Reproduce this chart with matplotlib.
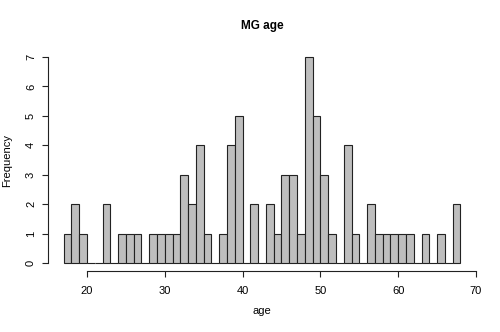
import matplotlib.pyplot as plt
import numpy as np

plt.rcParams['font.family'] = ['Liberation Sans', 'DejaVu Sans']

# one-year bins from 17 to 68
bin_edges = np.arange(17, 69)
counts = [1, 2, 1, 0, 0, 2, 0, 1, 1, 1, 0, 1, 1, 1, 1, 3, 2, 4, 1, 0,
          1, 4, 5, 0, 2, 0, 2, 1, 3, 3, 1, 7, 5, 3, 1, 0, 4, 1, 0, 2,
          1, 1, 1, 1, 1, 0, 1, 0, 1, 0, 2]
x_ticks = [20, 30, 40, 50, 60, 70]
y_ticks = list(range(8))

fig = plt.figure(figsize=(5, 3.32), dpi=100)
ax = fig.add_axes([0.0956, 0.183, 0.857, 0.670])

ax.bar(bin_edges[:-1], counts, width=1, align='edge',
       color='#bebebe', edgecolor='#222222', linewidth=0.8)

ax.set_xlim(14.96, 70.04)
ax.set_ylim(-0.28, 7.28)

for side in ('top', 'right'):
    ax.spines[side].set_visible(False)
ax.spines['bottom'].set_bounds(20, 70)
ax.spines['left'].set_bounds(0, 7)
for side in ('bottom', 'left'):
    ax.spines[side].set_linewidth(0.8)
    ax.spines[side].set_color('#222222')

ax.set_xticks(x_ticks)
ax.set_yticks(y_ticks)
ax.tick_params(direction='out', length=4.5, width=0.8, color='#222222',
               labelsize=8)
ax.tick_params(axis='x', pad=6)
ax.tick_params(axis='y', pad=4)
for lab in ax.get_yticklabels():
    lab.set_rotation(90)
    lab.set_va('center')

ax.set_xlabel('age', fontsize=8, va='center')
ax.xaxis.set_label_coords(0.5, -0.179)
ax.set_ylabel('Frequency', fontsize=8, va='center')
ax.yaxis.set_label_coords(-0.094, 0.5)
ax.set_title('MG age', fontsize=8.5, fontweight='bold', pad=14)

fig.savefig('out.png', dpi=100)
